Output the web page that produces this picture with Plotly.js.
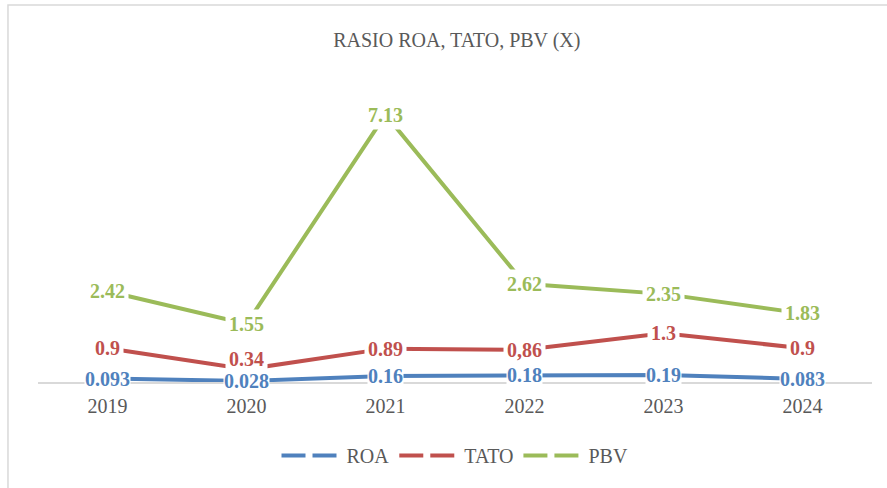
<!DOCTYPE html>
<html>
<head>
<meta charset="utf-8">
<script src="https://cdn.plot.ly/plotly-3.0.1.min.js"></script>
<style>
html,body{margin:0;padding:0;background:#fff;}
#chart{width:887px;height:488px;}
</style>
</head>
<body>
<div id="chart"></div>
<script>
const years = ['2019','2020','2021','2022','2023','2024'];
const roa = [0.093, 0.028, 0.16, 0.18, 0.19, 0.083];
const tato = [0.9, 0.34, 0.89, 0.86, 1.3, 0.9];
const pbv = [2.42, 1.55, 7.13, 2.62, 2.35, 1.83];
const roaLabels = ['0.093','0.028','0.16','0.18','0.19','0.083'];
const tatoLabels = ['0.9','0.34','0.89','0,86','1.3','0.9'];
const pbvLabels = ['2.42','1.55','7.13','2.62','2.35','1.83'];

const series = [
  {name:'ROA', y:roa, labels:roaLabels, color:'#4F81BD', pad:0},
  {name:'TATO', y:tato, labels:tatoLabels, color:'#C0504D', pad:3},
  {name:'PBV', y:pbv, labels:pbvLabels, color:'#9BBB59', pad:3}
];

const serif = 'Liberation Serif';
const traces = [];
series.slice().reverse().forEach(s => {
  traces.push({x:years, y:s.y, type:'scatter', mode:'lines', showlegend:false,
    line:{color:s.color, width:4}, hoverinfo:'skip'});
});
series.forEach(s => {
  traces.push({x:[years[0]], y:[null], type:'scatter', mode:'lines', name:s.name,
    line:{color:s.color, width:4, dash:'24px,7px'}, hoverinfo:'skip'});
});

const annotations = [];
series.slice().reverse().forEach(s => {
  s.y.forEach((v,i) => {
    // lift a TATO label when it sits close above the ROA label
    const close = s.name === 'TATO' && (v - roa[i]) < 0.5;
    annotations.push({x:i, y:v, xref:'x', yref:'y', text:'<b>' + s.labels[i] + '</b>', showarrow:false,
      xanchor:'center', yanchor:'middle', yshift: close ? 10 : 0,
      font:{family:serif, size:20, color:s.color},
      bgcolor:'#ffffff', borderpad:s.pad});
  });
});

const layout = {
  width:887, height:488,
  margin:{l:38, r:15, t:82, b:106},
  paper_bgcolor:'#ffffff', plot_bgcolor:'#ffffff',
  title:{text:'RASIO ROA, TATO, PBV (X)', x:0.515, xanchor:'center', y:0.918, yanchor:'middle',
    font:{family:serif, size:20, color:'#595959'}},
  xaxis:{type:'category', range:[-0.5,5.5], showgrid:false, zeroline:false,
    showline:true, linecolor:'#d9d9d9', linewidth:1.5, ticks:'', ticklabelstandoff:5,
    tickfont:{family:serif, size:20, color:'#595959'}, fixedrange:true},
  yaxis:{range:[0,8], showgrid:false, zeroline:false, showline:false, showticklabels:false, ticks:'', fixedrange:true},
  showlegend:true,
  legend:{orientation:'h', x:0.5, xanchor:'center', y:-0.245, yanchor:'middle',
    font:{family:serif, size:20, color:'#595959'}, itemwidth:60, tracegroupgap:0},
  annotations:annotations,
  shapes:[{type:'rect', xref:'paper', yref:'paper', x0:-0.036, x1:1.2, y0:-0.6, y1:1.257,
    line:{color:'#d9d9d9', width:1.5}, fillcolor:'rgba(0,0,0,0)', layer:'below'}]
};

Plotly.newPlot('chart', traces, layout, {displayModeBar:false, staticPlot:true});
</script>
</body>
</html>
